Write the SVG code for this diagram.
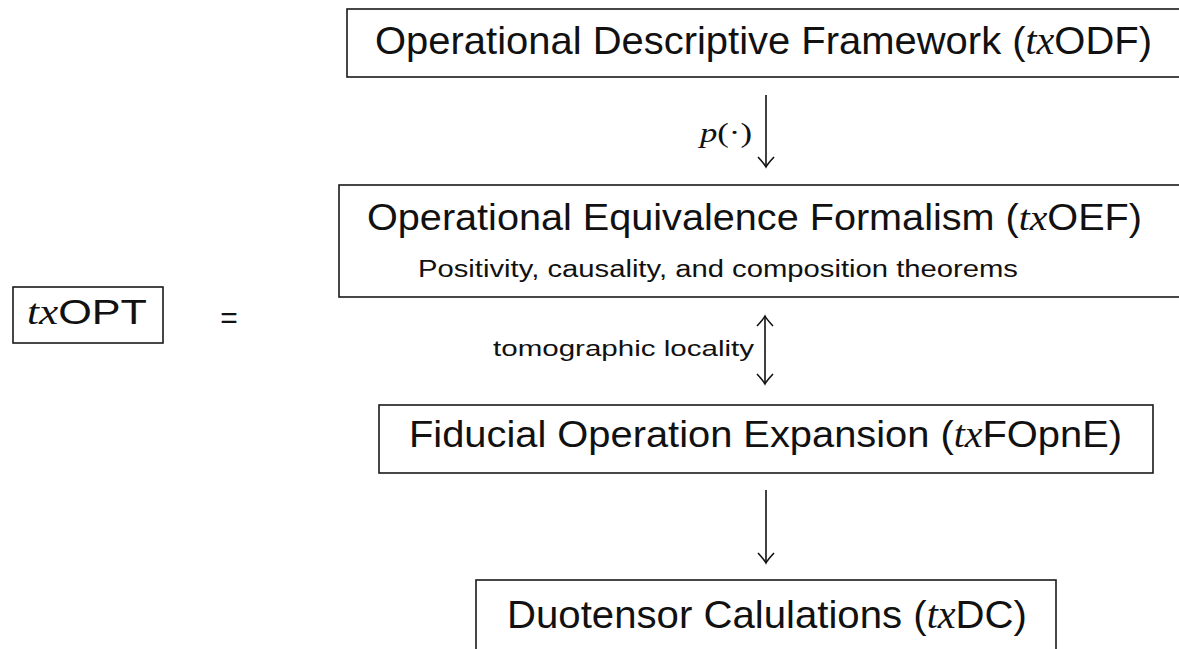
<svg xmlns="http://www.w3.org/2000/svg" width="1179" height="649" viewBox="0 0 1179 649">
  <style>
    .box { fill: #ffffff; stroke: #1a1a1a; stroke-width: 1.6; }
    .t { font-family: "Liberation Sans", Arial, sans-serif; fill: #111111; }
    .m { font-family: "Liberation Serif", "Times New Roman", serif; font-style: italic; }
    .link { stroke: #111111; stroke-width: 1.6; fill: none; }
  </style>
  <defs>
    <marker id="head" markerUnits="userSpaceOnUse" markerWidth="24" markerHeight="24" viewBox="-12 -12 24 24" refX="0" refY="0" orient="auto-start-reverse" overflow="visible">
      <path d="M-10,-8 Q-3,-1.5 0,0 Q-3,1.5 -10,8" fill="none" stroke="#111111" stroke-width="1.6"/>
    </marker>
  </defs>
  <rect width="1179" height="649" fill="#ffffff"/>

  <g id="node-odf">
    <rect class="box" x="347" y="9" width="840" height="68"/>
    <text class="t" x="375" y="54" font-size="39" textLength="777" lengthAdjust="spacingAndGlyphs">Operational Descriptive Framework (<tspan class="m">tx</tspan>ODF)</text>
  </g>

  <g id="node-oef">
    <rect class="box" x="339" y="185" width="848" height="112"/>
    <text class="t" x="367" y="230" font-size="36" textLength="775" lengthAdjust="spacingAndGlyphs">Operational Equivalence Formalism (<tspan class="m">tx</tspan>OEF)</text>
    <text class="t" x="418" y="277" font-size="23" textLength="600" lengthAdjust="spacingAndGlyphs">Positivity, causality, and composition theorems</text>
  </g>

  <g id="node-opt">
    <rect class="box" x="13" y="287" width="150" height="56"/>
    <text class="t" x="27" y="324" font-size="35" textLength="120" lengthAdjust="spacingAndGlyphs"><tspan class="m">tx</tspan>OPT</text>
  </g>

  <g id="equals">
    <text class="t" x="229" y="328" font-size="30" text-anchor="middle">=</text>
  </g>

  <g id="node-fopne">
    <rect class="box" x="379" y="405" width="774" height="68"/>
    <text class="t" x="409" y="447" font-size="37" textLength="713" lengthAdjust="spacingAndGlyphs">Fiducial Operation Expansion (<tspan class="m">tx</tspan>FOpnE)</text>
  </g>

  <g id="node-dc">
    <rect class="box" x="476" y="580" width="580" height="90"/>
    <text class="t" x="507" y="628" font-size="39" textLength="520" lengthAdjust="spacingAndGlyphs">Duotensor Calulations (<tspan class="m">tx</tspan>DC)</text>
  </g>

  <g id="connectors">
    <line class="link" x1="766" y1="95" x2="766" y2="167" marker-end="url(#head)"/>
    <text class="t m" x="700" y="142" font-size="27" textLength="52" lengthAdjust="spacingAndGlyphs">p<tspan font-style="normal">(·)</tspan></text>

    <line class="link" x1="765" y1="316" x2="765" y2="384" marker-start="url(#head)" marker-end="url(#head)"/>
    <text class="t" x="493" y="356" font-size="22" textLength="261" lengthAdjust="spacingAndGlyphs">tomographic locality</text>

    <line class="link" x1="766" y1="490" x2="766" y2="563" marker-end="url(#head)"/>
  </g>
</svg>
